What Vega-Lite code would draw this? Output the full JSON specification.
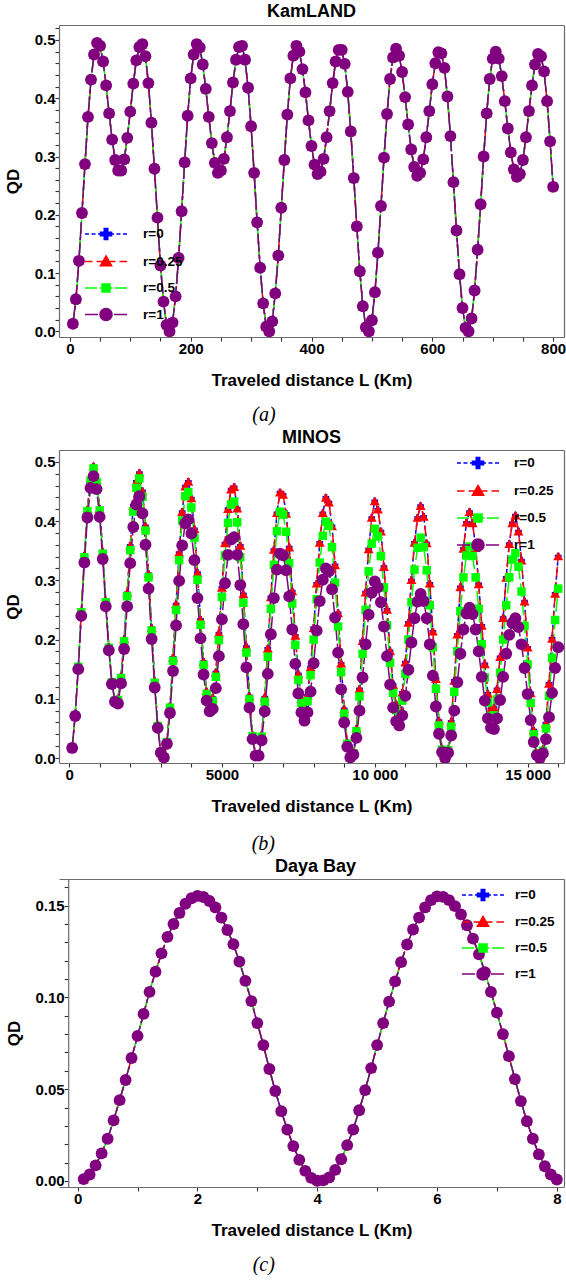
{
"$schema":"https://vega.github.io/schema/vega-lite/v6.json",
"padding":{"left":4,"top":3,"right":0,"bottom":0},
"columns":1,
"align":"none",
"spacing":4,
"resolve":{"scale":{"x":"independent","y":"independent","color":"independent"},"legend":{"color":"independent"}},
"config":{
 "view":{"stroke":null},
 "axis":{"domain":true,"domainColor":"#6b6b6b","domainWidth":1.2,"grid":false,"ticks":true,"tickSize":4,"tickColor":"#333","tickWidth":1.1,"labelFont":"Liberation Sans","labelFontWeight":"bold","labelFontSize":15,"labelColor":"black","labelPadding":0,"titleFont":"Liberation Sans","titleFontWeight":"bold","titleFontSize":17,"titleColor":"black","labelFlush":false,"labelOverlap":false},
 "title":{"font":"Liberation Sans","fontWeight":"bold","fontSize":18,"color":"black"},
 "legend":{"orient":"none","title":null,"padding":0,"symbolSize":400,"labelFont":"Liberation Sans","labelFontWeight":"bold","labelFontSize":13.5,"labelColor":"black","symbolStrokeWidth":1.6}
},
"concat":[
{"title":{"text":"(a)","orient":"bottom","anchor":"middle","frame":"bounds","font":"Liberation Serif","fontStyle":"italic","fontWeight":"normal","fontSize":20,"offset":17,"dx":-21},
 "vconcat":[{
 "width":505,"height":312,
 "title":{"text":"KamLAND","frame":"group","anchor":"middle","offset":0},
 "data":{"values":[
{"L":5,"r0":0.013,"r025":0.013,"r05":0.013,"r1":0.013},{"L":10,"r0":0.055,"r025":0.055,"r05":0.055,"r1":0.055},{"L":15,"r0":0.121,"r025":0.121,"r05":0.121,"r1":0.121},{"L":20,"r0":0.203,"r025":0.203,"r05":0.203,"r1":0.203},{"L":25,"r0":0.287,"r025":0.287,"r05":0.287,"r1":0.287},{"L":30,"r0":0.368,"r025":0.368,"r05":0.368,"r1":0.368},{"L":35,"r0":0.432,"r025":0.432,"r05":0.432,"r1":0.432},{"L":40,"r0":0.475,"r025":0.475,"r05":0.475,"r1":0.475},{"L":45,"r0":0.495,"r025":0.495,"r05":0.495,"r1":0.495},{"L":50,"r0":0.49,"r025":0.49,"r05":0.49,"r1":0.49},{"L":55,"r0":0.463,"r025":0.463,"r05":0.463,"r1":0.463},{"L":60,"r0":0.422,"r025":0.422,"r05":0.422,"r1":0.422},{"L":65,"r0":0.374,"r025":0.374,"r05":0.374,"r1":0.374},{"L":70,"r0":0.329,"r025":0.329,"r05":0.329,"r1":0.329},{"L":75,"r0":0.294,"r025":0.294,"r05":0.294,"r1":0.294},{"L":80,"r0":0.276,"r025":0.276,"r05":0.276,"r1":0.276},{"L":85,"r0":0.276,"r025":0.276,"r05":0.276,"r1":0.276},{"L":90,"r0":0.295,"r025":0.295,"r05":0.295,"r1":0.295},{"L":95,"r0":0.332,"r025":0.332,"r05":0.332,"r1":0.332},{"L":100,"r0":0.377,"r025":0.377,"r05":0.377,"r1":0.377},{"L":105,"r0":0.425,"r025":0.425,"r05":0.425,"r1":0.425},{"L":110,"r0":0.465,"r025":0.465,"r05":0.465,"r1":0.465},{"L":115,"r0":0.488,"r025":0.488,"r05":0.488,"r1":0.488},{"L":120,"r0":0.493,"r025":0.493,"r05":0.493,"r1":0.493},{"L":125,"r0":0.472,"r025":0.472,"r05":0.472,"r1":0.472},{"L":130,"r0":0.426,"r025":0.426,"r05":0.426,"r1":0.426},{"L":135,"r0":0.358,"r025":0.358,"r05":0.358,"r1":0.358},{"L":140,"r0":0.279,"r025":0.279,"r05":0.279,"r1":0.279},{"L":145,"r0":0.195,"r025":0.195,"r05":0.195,"r1":0.195},{"L":150,"r0":0.113,"r025":0.113,"r05":0.113,"r1":0.113},{"L":155,"r0":0.051,"r025":0.051,"r05":0.051,"r1":0.051},{"L":160,"r0":0.011,"r025":0.011,"r05":0.011,"r1":0.011},{"L":165,"r0":0.0,"r025":0.0,"r05":0.0,"r1":0.0},
{"L":170,"r0":0.015,"r025":0.015,"r05":0.015,"r1":0.015},{"L":175,"r0":0.06,"r025":0.06,"r05":0.06,"r1":0.06},{"L":180,"r0":0.126,"r025":0.126,"r05":0.126,"r1":0.126},{"L":185,"r0":0.206,"r025":0.206,"r05":0.206,"r1":0.206},{"L":190,"r0":0.29,"r025":0.29,"r05":0.29,"r1":0.29},{"L":195,"r0":0.37,"r025":0.37,"r05":0.37,"r1":0.37},{"L":200,"r0":0.434,"r025":0.434,"r05":0.434,"r1":0.434},{"L":205,"r0":0.475,"r025":0.475,"r05":0.475,"r1":0.475},{"L":210,"r0":0.493,"r025":0.493,"r05":0.493,"r1":0.493},{"L":215,"r0":0.487,"r025":0.487,"r05":0.487,"r1":0.487},{"L":220,"r0":0.458,"r025":0.458,"r05":0.458,"r1":0.458},{"L":225,"r0":0.416,"r025":0.416,"r05":0.416,"r1":0.416},{"L":230,"r0":0.368,"r025":0.368,"r05":0.368,"r1":0.368},{"L":235,"r0":0.323,"r025":0.323,"r05":0.323,"r1":0.323},{"L":240,"r0":0.289,"r025":0.289,"r05":0.289,"r1":0.289},{"L":245,"r0":0.272,"r025":0.272,"r05":0.272,"r1":0.272},{"L":250,"r0":0.276,"r025":0.276,"r05":0.276,"r1":0.276},{"L":255,"r0":0.296,"r025":0.296,"r05":0.296,"r1":0.296},{"L":260,"r0":0.333,"r025":0.333,"r05":0.333,"r1":0.333},{"L":265,"r0":0.378,"r025":0.378,"r05":0.378,"r1":0.378},{"L":270,"r0":0.427,"r025":0.427,"r05":0.427,"r1":0.427},{"L":275,"r0":0.466,"r025":0.466,"r05":0.466,"r1":0.466},{"L":280,"r0":0.488,"r025":0.488,"r05":0.488,"r1":0.488},{"L":285,"r0":0.49,"r025":0.49,"r05":0.49,"r1":0.49},{"L":290,"r0":0.466,"r025":0.466,"r05":0.466,"r1":0.466},{"L":295,"r0":0.418,"r025":0.418,"r05":0.418,"r1":0.418},{"L":300,"r0":0.352,"r025":0.352,"r05":0.352,"r1":0.352},{"L":305,"r0":0.272,"r025":0.272,"r05":0.272,"r1":0.272},{"L":310,"r0":0.187,"r025":0.187,"r05":0.187,"r1":0.187},{"L":315,"r0":0.109,"r025":0.109,"r05":0.109,"r1":0.109},{"L":320,"r0":0.048,"r025":0.048,"r05":0.048,"r1":0.048},{"L":325,"r0":0.008,"r025":0.008,"r05":0.008,"r1":0.008},{"L":330,"r0":0.0,"r025":0.0,"r05":0.0,"r1":0.0},
{"L":335,"r0":0.017,"r025":0.017,"r05":0.017,"r1":0.017},{"L":340,"r0":0.065,"r025":0.065,"r05":0.065,"r1":0.065},{"L":345,"r0":0.13,"r025":0.13,"r05":0.13,"r1":0.13},{"L":350,"r0":0.212,"r025":0.212,"r05":0.212,"r1":0.212},{"L":355,"r0":0.294,"r025":0.294,"r05":0.294,"r1":0.294},{"L":360,"r0":0.372,"r025":0.372,"r05":0.372,"r1":0.372},{"L":365,"r0":0.434,"r025":0.434,"r05":0.434,"r1":0.434},{"L":370,"r0":0.473,"r025":0.473,"r05":0.473,"r1":0.473},{"L":375,"r0":0.49,"r025":0.49,"r05":0.49,"r1":0.49},{"L":380,"r0":0.48,"r025":0.48,"r05":0.48,"r1":0.48},{"L":385,"r0":0.45,"r025":0.45,"r05":0.45,"r1":0.45},{"L":390,"r0":0.41,"r025":0.41,"r05":0.41,"r1":0.41},{"L":395,"r0":0.362,"r025":0.362,"r05":0.362,"r1":0.362},{"L":400,"r0":0.318,"r025":0.318,"r05":0.318,"r1":0.318},{"L":405,"r0":0.286,"r025":0.286,"r05":0.286,"r1":0.286},{"L":410,"r0":0.27,"r025":0.27,"r05":0.27,"r1":0.27},{"L":415,"r0":0.274,"r025":0.274,"r05":0.274,"r1":0.274},{"L":420,"r0":0.296,"r025":0.296,"r05":0.296,"r1":0.296},{"L":425,"r0":0.333,"r025":0.333,"r05":0.333,"r1":0.333},{"L":430,"r0":0.378,"r025":0.378,"r05":0.378,"r1":0.378},{"L":435,"r0":0.426,"r025":0.426,"r05":0.426,"r1":0.426},{"L":440,"r0":0.463,"r025":0.463,"r05":0.463,"r1":0.463},{"L":445,"r0":0.483,"r025":0.483,"r05":0.483,"r1":0.483},{"L":450,"r0":0.483,"r025":0.483,"r05":0.483,"r1":0.483},{"L":455,"r0":0.459,"r025":0.459,"r05":0.459,"r1":0.459},{"L":460,"r0":0.411,"r025":0.411,"r05":0.411,"r1":0.411},{"L":465,"r0":0.343,"r025":0.343,"r05":0.343,"r1":0.343},{"L":470,"r0":0.263,"r025":0.263,"r05":0.263,"r1":0.263},{"L":475,"r0":0.18,"r025":0.18,"r05":0.18,"r1":0.18},{"L":480,"r0":0.103,"r025":0.103,"r05":0.103,"r1":0.103},{"L":485,"r0":0.043,"r025":0.043,"r05":0.043,"r1":0.043},{"L":490,"r0":0.007,"r025":0.007,"r05":0.007,"r1":0.007},{"L":495,"r0":0.0,"r025":0.0,"r05":0.0,"r1":0.0},
{"L":500,"r0":0.019,"r025":0.019,"r05":0.019,"r1":0.019},{"L":505,"r0":0.067,"r025":0.067,"r05":0.067,"r1":0.067},{"L":510,"r0":0.135,"r025":0.135,"r05":0.135,"r1":0.135},{"L":515,"r0":0.215,"r025":0.215,"r05":0.215,"r1":0.215},{"L":520,"r0":0.298,"r025":0.298,"r05":0.298,"r1":0.298},{"L":525,"r0":0.373,"r025":0.373,"r05":0.373,"r1":0.373},{"L":530,"r0":0.433,"r025":0.433,"r05":0.433,"r1":0.433},{"L":535,"r0":0.47,"r025":0.47,"r05":0.47,"r1":0.47},{"L":540,"r0":0.485,"r025":0.485,"r05":0.485,"r1":0.485},{"L":545,"r0":0.473,"r025":0.473,"r05":0.473,"r1":0.473},{"L":550,"r0":0.445,"r025":0.445,"r05":0.445,"r1":0.445},{"L":555,"r0":0.402,"r025":0.402,"r05":0.402,"r1":0.402},{"L":560,"r0":0.355,"r025":0.355,"r05":0.355,"r1":0.355},{"L":565,"r0":0.312,"r025":0.312,"r05":0.312,"r1":0.312},{"L":570,"r0":0.282,"r025":0.282,"r05":0.282,"r1":0.282},{"L":575,"r0":0.267,"r025":0.267,"r05":0.267,"r1":0.267},{"L":580,"r0":0.272,"r025":0.272,"r05":0.272,"r1":0.272},{"L":585,"r0":0.295,"r025":0.295,"r05":0.295,"r1":0.295},{"L":590,"r0":0.333,"r025":0.333,"r05":0.333,"r1":0.333},{"L":595,"r0":0.378,"r025":0.378,"r05":0.378,"r1":0.378},{"L":600,"r0":0.424,"r025":0.424,"r05":0.424,"r1":0.424},{"L":605,"r0":0.46,"r025":0.46,"r05":0.46,"r1":0.46},{"L":610,"r0":0.479,"r025":0.479,"r05":0.479,"r1":0.479},{"L":615,"r0":0.477,"r025":0.477,"r05":0.477,"r1":0.477},{"L":620,"r0":0.452,"r025":0.452,"r05":0.452,"r1":0.452},{"L":625,"r0":0.403,"r025":0.403,"r05":0.403,"r1":0.403},{"L":630,"r0":0.335,"r025":0.335,"r05":0.335,"r1":0.335},{"L":635,"r0":0.256,"r025":0.256,"r05":0.256,"r1":0.256},{"L":640,"r0":0.173,"r025":0.173,"r05":0.173,"r1":0.173},{"L":645,"r0":0.098,"r025":0.098,"r05":0.098,"r1":0.098},{"L":650,"r0":0.04,"r025":0.04,"r05":0.04,"r1":0.04},{"L":655,"r0":0.006,"r025":0.006,"r05":0.006,"r1":0.006},{"L":660,"r0":0.0,"r025":0.0,"r05":0.0,"r1":0.0},
{"L":665,"r0":0.022,"r025":0.022,"r05":0.022,"r1":0.022},{"L":670,"r0":0.07,"r025":0.07,"r05":0.07,"r1":0.07},{"L":675,"r0":0.14,"r025":0.14,"r05":0.14,"r1":0.14},{"L":680,"r0":0.218,"r025":0.218,"r05":0.218,"r1":0.218},{"L":685,"r0":0.3,"r025":0.3,"r05":0.3,"r1":0.3},{"L":690,"r0":0.374,"r025":0.374,"r05":0.374,"r1":0.374},{"L":695,"r0":0.433,"r025":0.433,"r05":0.433,"r1":0.433},{"L":700,"r0":0.468,"r025":0.468,"r05":0.468,"r1":0.468},{"L":705,"r0":0.48,"r025":0.48,"r05":0.48,"r1":0.48},{"L":710,"r0":0.468,"r025":0.468,"r05":0.468,"r1":0.468},{"L":715,"r0":0.438,"r025":0.438,"r05":0.438,"r1":0.438},{"L":720,"r0":0.395,"r025":0.395,"r05":0.395,"r1":0.395},{"L":725,"r0":0.348,"r025":0.348,"r05":0.348,"r1":0.348},{"L":730,"r0":0.307,"r025":0.307,"r05":0.307,"r1":0.307},{"L":735,"r0":0.278,"r025":0.278,"r05":0.278,"r1":0.278},{"L":740,"r0":0.265,"r025":0.265,"r05":0.265,"r1":0.265},{"L":745,"r0":0.27,"r025":0.27,"r05":0.27,"r1":0.27},{"L":750,"r0":0.294,"r025":0.294,"r05":0.294,"r1":0.294},{"L":755,"r0":0.333,"r025":0.333,"r05":0.333,"r1":0.333},{"L":760,"r0":0.378,"r025":0.378,"r05":0.378,"r1":0.378},{"L":765,"r0":0.422,"r025":0.422,"r05":0.422,"r1":0.422},{"L":770,"r0":0.458,"r025":0.458,"r05":0.458,"r1":0.458},{"L":775,"r0":0.476,"r025":0.476,"r05":0.476,"r1":0.476},{"L":780,"r0":0.472,"r025":0.472,"r05":0.472,"r1":0.472},{"L":785,"r0":0.446,"r025":0.446,"r05":0.446,"r1":0.446},{"L":790,"r0":0.395,"r025":0.395,"r05":0.395,"r1":0.395},{"L":795,"r0":0.326,"r025":0.326,"r05":0.326,"r1":0.326},{"L":800,"r0":0.248,"r025":0.248,"r05":0.248,"r1":0.248}
 ]},
 "transform":[{"fold":["r0","r025","r05","r1"],"as":["series","qd"]}],
 "encoding":{
   "x":{"field":"L","type":"quantitative","scale":{"domain":[-18,818],"nice":false,"zero":false},"axis":null},
   "y":{"field":"qd","type":"quantitative","scale":{"domain":[-0.0098,0.5257],"nice":false,"zero":false},"axis":null},
   "color":{"field":"series","type":"nominal","scale":{"domain":["r0","r025","r05","r1"],"range":["#0000ff","#ff0000","#00ff00","#800080"]},
   "legend":{"legendX":36,"legendY":198,"labelOffset":26,"rowPadding":7.5,
    "labelExpr":"datum.label === 'r0' ? 'r=0' : datum.label === 'r025' ? 'r=0.25' : datum.label === 'r05' ? 'r=0.5' : 'r=1'",
    "encode":{"symbols":{"update":{
      "shape":{"signal":"datum.value === 'r0' ? 'M-2.1,0H-1.7M-1.45,0H-1.05M-0.8,0H-0.55M0.55,0H0.8M1.05,0H1.45M1.7,0H2.1M-0.55,-0.17H-0.17V-0.55H0.17V-0.17H0.55V0.17H0.17V0.55H-0.17V0.17H-0.55Z' : datum.value === 'r025' ? 'M-2.1,0H-1.35M-0.95,0H-0.2M0.2,0H0.95M1.35,0H2.1M0,-0.55L0.55,0.42L-0.55,0.42Z' : datum.value === 'r05' ? 'M-2.1,0H-0.9M-0.65,0H0.65M0.9,0H2.1M-0.4,-0.4H0.4V0.4H-0.4Z' : 'M-2.1,0H-0.8M0.8,0H2.1M0.6,0A0.6,0.6,0,1,1,-0.6,0A0.6,0.6,0,1,1,0.6,0Z'"},
      "fill":{"signal":"datum.value === 'r0' ? '#0000ff' : datum.value === 'r025' ? '#ff0000' : datum.value === 'r05' ? '#00ff00' : '#800080'"},
      "stroke":{"signal":"datum.value === 'r0' ? '#0000ff' : datum.value === 'r025' ? '#ff0000' : datum.value === 'r05' ? '#00ff00' : '#800080'"},
      "size":{"value":400},"opacity":{"value":1},"strokeWidth":{"value":1.6}}}}}}},
 "layer":[
  {"mark":{"type":"line","strokeWidth":1.5,"clip":true},
   "encoding":{
    "x":{"field":"L","type":"quantitative",
      "axis":{"orient":"bottom","values":[0,50,100,150,200,250,300,350,400,450,500,550,600,650,700,750,800],"format":"d","labelExpr":"datum.value % 200 === 0 ? datum.label : ''","title":"Traveled distance L (Km)","titlePadding":16,
        "encode":{"ticks":{"update":{"y":{"value":0},"y2":{"signal":"datum.value % 200 === 0 ? -7 : -4"}}}}}},
    "y":{"field":"qd","type":"quantitative",
      "axis":{"orient":"left","values":[0,0.02,0.04,0.06,0.08,0.1,0.12,0.14,0.16,0.18,0.2,0.22,0.24,0.26,0.28,0.3,0.32,0.34,0.36,0.38,0.4,0.42,0.44,0.46,0.48,0.5,0.52],"format":".1f","labelExpr":"abs(datum.value*10 - round(datum.value*10)) < 1e-6 ? datum.label : ''","title":"QD","titlePadding":12,
        "encode":{"ticks":{"update":{"x":{"value":0},"x2":{"signal":"abs(datum.value*10 - round(datum.value*10)) < 1e-6 ? 7 : 4"}}}}}},
    "strokeDash":{"field":"series","type":"nominal","scale":{"domain":["r0","r025","r05","r1"],"range":[[4,3],[10,5],[14,4],[18,3]]},"legend":null}}},
  {"transform":[{"filter":{"field":"series","equal":"r0"}}],
   "mark":{"type":"point","shape":"cross","size":45,"filled":true,"opacity":1,"strokeWidth":0,"clip":true},
   "encoding":{
    "x":{"field":"L","type":"quantitative","axis":{"orient":"top","tickSize":0.01,"values":[0,50,100,150,200,250,300,350,400,450,500,550,600,650,700,750,800],"labels":false,"title":null,
        "encode":{"ticks":{"update":{"y":{"value":0},"y2":{"signal":"datum.value % 200 === 0 ? 7 : 4"}}}}}},
    "y":{"field":"qd","type":"quantitative","axis":{"orient":"right","tickSize":0.01,"values":[0,0.02,0.04,0.06,0.08,0.1,0.12,0.14,0.16,0.18,0.2,0.22,0.24,0.26,0.28,0.3,0.32,0.34,0.36,0.38,0.4,0.42,0.44,0.46,0.48,0.5,0.52],"labels":false,"title":null,
        "encode":{"ticks":{"update":{"x":{"value":0},"x2":{"signal":"abs(datum.value*10 - round(datum.value*10)) < 1e-6 ? -7 : -4"}}}}}}}},
  {"transform":[{"filter":{"field":"series","equal":"r025"}}],"mark":{"type":"point","shape":"triangle-up","size":100,"filled":true,"opacity":1,"strokeWidth":0,"clip":true}},
  {"transform":[{"filter":{"field":"series","equal":"r05"}}],"mark":{"type":"point","shape":"square","size":72,"filled":true,"opacity":1,"strokeWidth":0,"clip":true}},
  {"transform":[{"filter":{"field":"series","equal":"r1"}}],"mark":{"type":"point","shape":"circle","size":140,"filled":true,"opacity":1,"strokeWidth":0,"clip":true}}
 ],
 "resolve":{"axis":{"x":"independent","y":"independent"}}
}]},
{"title":{"text":"(b)","orient":"bottom","anchor":"middle","frame":"bounds","font":"Liberation Serif","fontStyle":"italic","fontWeight":"normal","fontSize":20,"offset":20,"dx":-21},
 "vconcat":[{
 "width":505,"height":313,
 "title":{"text":"MINOS","frame":"group","anchor":"middle","offset":2},
 "data":{"values":[
{"L":100,"r0":0.018,"r025":0.018,"r05":0.018,"r1":0.017},{"L":200,"r0":0.073,"r025":0.073,"r05":0.072,"r1":0.071},{"L":300,"r0":0.155,"r025":0.155,"r05":0.154,"r1":0.15},{"L":400,"r0":0.248,"r025":0.248,"r05":0.246,"r1":0.24},{"L":500,"r0":0.342,"r025":0.342,"r05":0.339,"r1":0.33},{"L":600,"r0":0.42,"r025":0.42,"r05":0.417,"r1":0.406},{"L":700,"r0":0.472,"r025":0.472,"r05":0.468,"r1":0.456},{"L":800,"r0":0.493,"r025":0.493,"r05":0.489,"r1":0.476},{"L":900,"r0":0.47,"r025":0.47,"r05":0.466,"r1":0.454},{"L":1000,"r0":0.421,"r025":0.421,"r05":0.418,"r1":0.407},{"L":1100,"r0":0.348,"r025":0.348,"r05":0.345,"r1":0.336},{"L":1200,"r0":0.265,"r025":0.265,"r05":0.263,"r1":0.256},{"L":1300,"r0":0.188,"r025":0.188,"r05":0.186,"r1":0.182},{"L":1400,"r0":0.129,"r025":0.129,"r05":0.128,"r1":0.125},{"L":1500,"r0":0.098,"r025":0.098,"r05":0.097,"r1":0.095},
{"L":1600,"r0":0.101,"r025":0.101,"r05":0.098,"r1":0.092},{"L":1700,"r0":0.138,"r025":0.138,"r05":0.135,"r1":0.126},{"L":1800,"r0":0.201,"r025":0.201,"r05":0.197,"r1":0.184},{"L":1900,"r0":0.279,"r025":0.279,"r05":0.273,"r1":0.256},{"L":2000,"r0":0.359,"r025":0.359,"r05":0.351,"r1":0.329},{"L":2100,"r0":0.426,"r025":0.426,"r05":0.416,"r1":0.39},{"L":2200,"r0":0.467,"r025":0.467,"r05":0.456,"r1":0.428},{"L":2300,"r0":0.482,"r025":0.482,"r05":0.472,"r1":0.442},{"L":2400,"r0":0.451,"r025":0.451,"r05":0.441,"r1":0.413},{"L":2500,"r0":0.392,"r025":0.392,"r05":0.384,"r1":0.36},{"L":2600,"r0":0.311,"r025":0.311,"r05":0.305,"r1":0.286},{"L":2700,"r0":0.22,"r025":0.22,"r05":0.215,"r1":0.201},{"L":2800,"r0":0.13,"r025":0.13,"r05":0.127,"r1":0.119},{"L":2900,"r0":0.056,"r025":0.056,"r05":0.054,"r1":0.051},{"L":3000,"r0":0.01,"r025":0.01,"r05":0.01,"r1":0.009},
{"L":3100,"r0":0.001,"r025":0.001,"r05":0.001,"r1":0.001},{"L":3200,"r0":0.028,"r025":0.028,"r05":0.027,"r1":0.024},{"L":3300,"r0":0.088,"r025":0.088,"r05":0.085,"r1":0.076},{"L":3400,"r0":0.17,"r025":0.17,"r05":0.164,"r1":0.147},{"L":3500,"r0":0.26,"r025":0.26,"r05":0.25,"r1":0.224},{"L":3600,"r0":0.347,"r025":0.347,"r05":0.334,"r1":0.299},{"L":3700,"r0":0.416,"r025":0.416,"r05":0.401,"r1":0.359},{"L":3800,"r0":0.459,"r025":0.459,"r05":0.442,"r1":0.396},{"L":3900,"r0":0.467,"r025":0.467,"r05":0.449,"r1":0.403},{"L":4000,"r0":0.439,"r025":0.439,"r05":0.423,"r1":0.379},{"L":4100,"r0":0.387,"r025":0.387,"r05":0.372,"r1":0.334},{"L":4200,"r0":0.313,"r025":0.313,"r05":0.301,"r1":0.27},{"L":4300,"r0":0.234,"r025":0.234,"r05":0.225,"r1":0.202},{"L":4400,"r0":0.163,"r025":0.163,"r05":0.157,"r1":0.141},{"L":4500,"r0":0.113,"r025":0.113,"r05":0.108,"r1":0.097},{"L":4600,"r0":0.092,"r025":0.092,"r05":0.088,"r1":0.079},
{"L":4700,"r0":0.102,"r025":0.102,"r05":0.096,"r1":0.083},{"L":4800,"r0":0.145,"r025":0.145,"r05":0.137,"r1":0.118},{"L":4900,"r0":0.211,"r025":0.211,"r05":0.199,"r1":0.172},{"L":5000,"r0":0.288,"r025":0.288,"r05":0.272,"r1":0.234},{"L":5100,"r0":0.363,"r025":0.363,"r05":0.342,"r1":0.295},{"L":5200,"r0":0.421,"r025":0.421,"r05":0.397,"r1":0.343},{"L":5300,"r0":0.454,"r025":0.454,"r05":0.428,"r1":0.369},{"L":5400,"r0":0.458,"r025":0.458,"r05":0.433,"r1":0.373},{"L":5500,"r0":0.422,"r025":0.422,"r05":0.398,"r1":0.343},{"L":5600,"r0":0.359,"r025":0.359,"r05":0.339,"r1":0.292},{"L":5700,"r0":0.277,"r025":0.277,"r05":0.262,"r1":0.226},{"L":5800,"r0":0.188,"r025":0.188,"r05":0.178,"r1":0.153},{"L":5900,"r0":0.105,"r025":0.105,"r05":0.099,"r1":0.085},{"L":6000,"r0":0.039,"r025":0.039,"r05":0.037,"r1":0.032},{"L":6100,"r0":0.005,"r025":0.005,"r05":0.004,"r1":0.004},
{"L":6200,"r0":0.005,"r025":0.005,"r05":0.004,"r1":0.004},{"L":6300,"r0":0.039,"r025":0.039,"r05":0.036,"r1":0.03},{"L":6400,"r0":0.103,"r025":0.103,"r05":0.095,"r1":0.079},{"L":6500,"r0":0.185,"r025":0.185,"r05":0.171,"r1":0.142},{"L":6600,"r0":0.272,"r025":0.272,"r05":0.252,"r1":0.209},{"L":6700,"r0":0.352,"r025":0.352,"r05":0.326,"r1":0.27},{"L":6800,"r0":0.414,"r025":0.414,"r05":0.383,"r1":0.318},{"L":6900,"r0":0.449,"r025":0.449,"r05":0.416,"r1":0.345},{"L":7000,"r0":0.445,"r025":0.445,"r05":0.411,"r1":0.342},{"L":7100,"r0":0.413,"r025":0.413,"r05":0.382,"r1":0.317},{"L":7200,"r0":0.356,"r025":0.356,"r05":0.329,"r1":0.273},{"L":7300,"r0":0.282,"r025":0.282,"r05":0.261,"r1":0.217},{"L":7400,"r0":0.207,"r025":0.207,"r05":0.191,"r1":0.159},{"L":7500,"r0":0.142,"r025":0.142,"r05":0.132,"r1":0.109},{"L":7600,"r0":0.1,"r025":0.1,"r05":0.093,"r1":0.077},
{"L":7700,"r0":0.086,"r025":0.086,"r05":0.078,"r1":0.063},{"L":7800,"r0":0.106,"r025":0.106,"r05":0.096,"r1":0.077},{"L":7900,"r0":0.154,"r025":0.154,"r05":0.14,"r1":0.112},{"L":8000,"r0":0.22,"r025":0.22,"r05":0.2,"r1":0.16},{"L":8100,"r0":0.295,"r025":0.295,"r05":0.268,"r1":0.215},{"L":8200,"r0":0.364,"r025":0.364,"r05":0.33,"r1":0.265},{"L":8300,"r0":0.414,"r025":0.414,"r05":0.375,"r1":0.301},{"L":8400,"r0":0.44,"r025":0.44,"r05":0.399,"r1":0.32},{"L":8500,"r0":0.432,"r025":0.432,"r05":0.392,"r1":0.315},{"L":8600,"r0":0.392,"r025":0.392,"r05":0.356,"r1":0.285},{"L":8700,"r0":0.326,"r025":0.326,"r05":0.296,"r1":0.237},{"L":8800,"r0":0.245,"r025":0.245,"r05":0.222,"r1":0.178},{"L":8900,"r0":0.16,"r025":0.16,"r05":0.145,"r1":0.116},{"L":9000,"r0":0.083,"r025":0.083,"r05":0.075,"r1":0.06},{"L":9100,"r0":0.026,"r025":0.026,"r05":0.024,"r1":0.019},{"L":9200,"r0":0.001,"r025":0.001,"r05":0.001,"r1":0.001},
{"L":9300,"r0":0.009,"r025":0.009,"r05":0.008,"r1":0.006},{"L":9400,"r0":0.05,"r025":0.05,"r05":0.045,"r1":0.034},{"L":9500,"r0":0.117,"r025":0.117,"r05":0.104,"r1":0.08},{"L":9600,"r0":0.198,"r025":0.198,"r05":0.176,"r1":0.136},{"L":9700,"r0":0.28,"r025":0.28,"r05":0.25,"r1":0.192},{"L":9800,"r0":0.353,"r025":0.353,"r05":0.315,"r1":0.242},{"L":9900,"r0":0.406,"r025":0.406,"r05":0.362,"r1":0.279},{"L":10000,"r0":0.434,"r025":0.434,"r05":0.387,"r1":0.298},{"L":10100,"r0":0.42,"r025":0.42,"r05":0.374,"r1":0.288},{"L":10200,"r0":0.383,"r025":0.383,"r05":0.341,"r1":0.263},{"L":10300,"r0":0.323,"r025":0.323,"r05":0.288,"r1":0.222},{"L":10400,"r0":0.251,"r025":0.251,"r05":0.224,"r1":0.172},{"L":10500,"r0":0.181,"r025":0.181,"r05":0.161,"r1":0.124},{"L":10600,"r0":0.124,"r025":0.124,"r05":0.11,"r1":0.085},{"L":10700,"r0":0.091,"r025":0.091,"r05":0.081,"r1":0.062},
{"L":10800,"r0":0.085,"r025":0.085,"r05":0.074,"r1":0.055},{"L":10900,"r0":0.111,"r025":0.111,"r05":0.097,"r1":0.072},{"L":11000,"r0":0.162,"r025":0.162,"r05":0.142,"r1":0.105},{"L":11100,"r0":0.229,"r025":0.229,"r05":0.2,"r1":0.149},{"L":11200,"r0":0.301,"r025":0.301,"r05":0.263,"r1":0.195},{"L":11300,"r0":0.364,"r025":0.364,"r05":0.318,"r1":0.236},{"L":11400,"r0":0.406,"r025":0.406,"r05":0.355,"r1":0.264},{"L":11500,"r0":0.426,"r025":0.426,"r05":0.372,"r1":0.277},{"L":11600,"r0":0.408,"r025":0.408,"r05":0.356,"r1":0.265},{"L":11700,"r0":0.363,"r025":0.363,"r05":0.317,"r1":0.236},{"L":11800,"r0":0.295,"r025":0.295,"r05":0.258,"r1":0.192},{"L":11900,"r0":0.214,"r025":0.214,"r05":0.187,"r1":0.139},{"L":12000,"r0":0.134,"r025":0.134,"r05":0.117,"r1":0.087},{"L":12100,"r0":0.063,"r025":0.063,"r05":0.055,"r1":0.041},{"L":12200,"r0":0.016,"r025":0.016,"r05":0.014,"r1":0.01},{"L":12300,"r0":0.0,"r025":0.0,"r05":0.0,"r1":0.0},
{"L":12400,"r0":0.015,"r025":0.015,"r05":0.013,"r1":0.009},{"L":12500,"r0":0.062,"r025":0.062,"r05":0.053,"r1":0.038},{"L":12600,"r0":0.131,"r025":0.131,"r05":0.112,"r1":0.08},{"L":12700,"r0":0.209,"r025":0.209,"r05":0.18,"r1":0.128},{"L":12800,"r0":0.289,"r025":0.289,"r05":0.248,"r1":0.176},{"L":12900,"r0":0.354,"r025":0.354,"r05":0.305,"r1":0.217},{"L":13000,"r0":0.398,"r025":0.398,"r05":0.342,"r1":0.244},{"L":13100,"r0":0.416,"r025":0.416,"r05":0.357,"r1":0.254},{"L":13200,"r0":0.397,"r025":0.397,"r05":0.341,"r1":0.243},{"L":13300,"r0":0.355,"r025":0.355,"r05":0.305,"r1":0.217},{"L":13400,"r0":0.294,"r025":0.294,"r05":0.252,"r1":0.18},{"L":13500,"r0":0.224,"r025":0.224,"r05":0.192,"r1":0.137},{"L":13600,"r0":0.159,"r025":0.159,"r05":0.136,"r1":0.097},{"L":13700,"r0":0.109,"r025":0.109,"r05":0.094,"r1":0.067},{"L":13800,"r0":0.083,"r025":0.083,"r05":0.071,"r1":0.051},
{"L":13900,"r0":0.085,"r025":0.085,"r05":0.072,"r1":0.049},{"L":14000,"r0":0.117,"r025":0.117,"r05":0.099,"r1":0.067},{"L":14100,"r0":0.171,"r025":0.171,"r05":0.144,"r1":0.098},{"L":14200,"r0":0.237,"r025":0.237,"r05":0.2,"r1":0.137},{"L":14300,"r0":0.305,"r025":0.305,"r05":0.258,"r1":0.176},{"L":14400,"r0":0.362,"r025":0.362,"r05":0.305,"r1":0.208},{"L":14500,"r0":0.397,"r025":0.397,"r05":0.335,"r1":0.228},{"L":14600,"r0":0.41,"r025":0.41,"r05":0.346,"r1":0.236},{"L":14700,"r0":0.383,"r025":0.383,"r05":0.323,"r1":0.221},{"L":14800,"r0":0.334,"r025":0.334,"r05":0.281,"r1":0.192},{"L":14900,"r0":0.265,"r025":0.265,"r05":0.223,"r1":0.152},{"L":15000,"r0":0.187,"r025":0.187,"r05":0.158,"r1":0.108},{"L":15100,"r0":0.11,"r025":0.11,"r05":0.093,"r1":0.064},{"L":15200,"r0":0.047,"r025":0.047,"r05":0.04,"r1":0.027},{"L":15300,"r0":0.008,"r025":0.008,"r05":0.007,"r1":0.005},
{"L":15400,"r0":0.0,"r025":0.0,"r05":0.0,"r1":0.0},{"L":15500,"r0":0.015,"r025":0.015,"r05":0.012,"r1":0.008},{"L":15600,"r0":0.059,"r025":0.059,"r05":0.05,"r1":0.032},{"L":15700,"r0":0.126,"r025":0.126,"r05":0.105,"r1":0.069},{"L":15800,"r0":0.202,"r025":0.202,"r05":0.169,"r1":0.11},{"L":15900,"r0":0.278,"r025":0.278,"r05":0.233,"r1":0.152},{"L":16000,"r0":0.341,"r025":0.341,"r05":0.286,"r1":0.187}
 ]},
 "transform":[{"fold":["r0","r025","r05","r1"],"as":["series","qd"]}],
 "encoding":{
   "x":{"field":"L","type":"quantitative","scale":{"domain":[-330,16190],"nice":false,"zero":false},"axis":null},
   "y":{"field":"qd","type":"quantitative","scale":{"domain":[-0.0084,0.52],"nice":false,"zero":false},"axis":null},
   "color":{"field":"series","type":"nominal","scale":{"domain":["r0","r025","r05","r1"],"range":["#0000ff","#ff0000","#00ff00","#800080"]},
   "legend":{"legendX":408,"legendY":2,"labelOffset":25,"rowPadding":8,
    "labelExpr":"datum.label === 'r0' ? 'r=0' : datum.label === 'r025' ? 'r=0.25' : datum.label === 'r05' ? 'r=0.5' : 'r=1'",
    "encode":{"symbols":{"update":{
      "shape":{"signal":"datum.value === 'r0' ? 'M-2.1,0H-1.7M-1.45,0H-1.05M-0.8,0H-0.55M0.55,0H0.8M1.05,0H1.45M1.7,0H2.1M-0.55,-0.17H-0.17V-0.55H0.17V-0.17H0.55V0.17H0.17V0.55H-0.17V0.17H-0.55Z' : datum.value === 'r025' ? 'M-2.1,0H-1.35M-0.95,0H-0.2M0.2,0H0.95M1.35,0H2.1M0,-0.55L0.55,0.42L-0.55,0.42Z' : datum.value === 'r05' ? 'M-2.1,0H-0.9M-0.65,0H0.65M0.9,0H2.1M-0.4,-0.4H0.4V0.4H-0.4Z' : 'M-2.1,0H-0.8M0.8,0H2.1M0.6,0A0.6,0.6,0,1,1,-0.6,0A0.6,0.6,0,1,1,0.6,0Z'"},
      "fill":{"signal":"datum.value === 'r0' ? '#0000ff' : datum.value === 'r025' ? '#ff0000' : datum.value === 'r05' ? '#00ff00' : '#800080'"},
      "stroke":{"signal":"datum.value === 'r0' ? '#0000ff' : datum.value === 'r025' ? '#ff0000' : datum.value === 'r05' ? '#00ff00' : '#800080'"},
      "size":{"value":400},"opacity":{"value":1},"strokeWidth":{"value":1.6}}}}}}},
 "layer":[
  {"mark":{"type":"line","strokeWidth":1.5,"clip":true},
   "encoding":{
    "x":{"field":"L","type":"quantitative",
      "axis":{"orient":"bottom","values":[0,1000,2000,3000,4000,5000,6000,7000,8000,9000,10000,11000,12000,13000,14000,15000,16000],"format":"d","labelExpr":"datum.value === 10000 ? '10 000' : datum.value === 15000 ? '15 000' : datum.value % 5000 === 0 ? datum.label : ''","title":"Traveled distance L (Km)","titlePadding":16,
        "encode":{"ticks":{"update":{"y":{"value":0},"y2":{"signal":"datum.value % 5000 === 0 ? -7 : -4"}}}}}},
    "y":{"field":"qd","type":"quantitative",
      "axis":{"orient":"left","values":[0,0.02,0.04,0.06,0.08,0.1,0.12,0.14,0.16,0.18,0.2,0.22,0.24,0.26,0.28,0.3,0.32,0.34,0.36,0.38,0.4,0.42,0.44,0.46,0.48,0.5],"format":".1f","labelExpr":"abs(datum.value*10 - round(datum.value*10)) < 1e-6 ? datum.label : ''","title":"QD","titlePadding":12,
        "encode":{"ticks":{"update":{"x":{"value":0},"x2":{"signal":"abs(datum.value*10 - round(datum.value*10)) < 1e-6 ? 7 : 4"}}}}}},
    "strokeDash":{"field":"series","type":"nominal","scale":{"domain":["r0","r025","r05","r1"],"range":[[4,3],[10,5],[14,4],[18,3]]},"legend":null}}},
  {"transform":[{"filter":{"field":"series","equal":"r0"}}],
   "mark":{"type":"point","shape":"cross","size":45,"filled":true,"opacity":1,"strokeWidth":0,"clip":true},
   "encoding":{
    "x":{"field":"L","type":"quantitative","axis":{"orient":"top","tickSize":0.01,"values":[0,1000,2000,3000,4000,5000,6000,7000,8000,9000,10000,11000,12000,13000,14000,15000,16000],"labels":false,"title":null,
        "encode":{"ticks":{"update":{"y":{"value":0},"y2":{"signal":"datum.value % 5000 === 0 ? 7 : 4"}}}}}},
    "y":{"field":"qd","type":"quantitative","axis":{"orient":"right","tickSize":0.01,"values":[0,0.02,0.04,0.06,0.08,0.1,0.12,0.14,0.16,0.18,0.2,0.22,0.24,0.26,0.28,0.3,0.32,0.34,0.36,0.38,0.4,0.42,0.44,0.46,0.48,0.5],"labels":false,"title":null,
        "encode":{"ticks":{"update":{"x":{"value":0},"x2":{"signal":"abs(datum.value*10 - round(datum.value*10)) < 1e-6 ? -7 : -4"}}}}}}}},
  {"transform":[{"filter":{"field":"series","equal":"r025"}}],"mark":{"type":"point","shape":"triangle-up","size":100,"filled":true,"opacity":1,"strokeWidth":0,"clip":true}},
  {"transform":[{"filter":{"field":"series","equal":"r05"}}],"mark":{"type":"point","shape":"square","size":72,"filled":true,"opacity":1,"strokeWidth":0,"clip":true}},
  {"transform":[{"filter":{"field":"series","equal":"r1"}}],"mark":{"type":"point","shape":"circle","size":140,"filled":true,"opacity":1,"strokeWidth":0,"clip":true}}
 ],
 "resolve":{"axis":{"x":"independent","y":"independent"}}
}]},
{"title":{"text":"(c)","orient":"bottom","anchor":"middle","frame":"bounds","font":"Liberation Serif","fontStyle":"italic","fontWeight":"normal","fontSize":20,"offset":17,"dx":-21},
 "vconcat":[{
 "width":505,"height":308,
 "title":{"text":"Daya Bay","frame":"group","anchor":"middle","offset":2,"dx":4},
 "data":{"values":[
{"L":0.1,"r0":0.001,"r025":0.001,"r05":0.001,"r1":0.001},{"L":0.2,"r0":0.0035,"r025":0.0035,"r05":0.0035,"r1":0.0035},{"L":0.3,"r0":0.0085,"r025":0.0085,"r05":0.0085,"r1":0.0085},{"L":0.4,"r0":0.015,"r025":0.015,"r05":0.015,"r1":0.015},{"L":0.5,"r0":0.023,"r025":0.023,"r05":0.023,"r1":0.023},{"L":0.6,"r0":0.033,"r025":0.033,"r05":0.033,"r1":0.033},{"L":0.7,"r0":0.044,"r025":0.044,"r05":0.044,"r1":0.044},{"L":0.8,"r0":0.055,"r025":0.055,"r05":0.055,"r1":0.055},{"L":0.9,"r0":0.067,"r025":0.067,"r05":0.067,"r1":0.067},{"L":1.0,"r0":0.079,"r025":0.079,"r05":0.079,"r1":0.079},
{"L":1.1,"r0":0.091,"r025":0.091,"r05":0.091,"r1":0.091},{"L":1.2,"r0":0.103,"r025":0.103,"r05":0.103,"r1":0.103},{"L":1.3,"r0":0.114,"r025":0.114,"r05":0.114,"r1":0.114},{"L":1.4,"r0":0.124,"r025":0.124,"r05":0.124,"r1":0.124},{"L":1.5,"r0":0.133,"r025":0.133,"r05":0.133,"r1":0.133},{"L":1.6,"r0":0.14,"r025":0.14,"r05":0.14,"r1":0.14},{"L":1.7,"r0":0.146,"r025":0.146,"r05":0.146,"r1":0.146},{"L":1.8,"r0":0.151,"r025":0.151,"r05":0.151,"r1":0.151},{"L":1.9,"r0":0.154,"r025":0.154,"r05":0.154,"r1":0.154},{"L":2.0,"r0":0.1553,"r025":0.1553,"r05":0.1553,"r1":0.1553},
{"L":2.1,"r0":0.1547,"r025":0.1547,"r05":0.1547,"r1":0.1547},{"L":2.2,"r0":0.1525,"r025":0.1525,"r05":0.1525,"r1":0.1525},{"L":2.3,"r0":0.149,"r025":0.149,"r05":0.149,"r1":0.149},{"L":2.4,"r0":0.1435,"r025":0.1435,"r05":0.1435,"r1":0.1435},{"L":2.5,"r0":0.1367,"r025":0.1367,"r05":0.1367,"r1":0.1367},{"L":2.6,"r0":0.129,"r025":0.129,"r05":0.129,"r1":0.129},{"L":2.7,"r0":0.1195,"r025":0.1195,"r05":0.1195,"r1":0.1195},{"L":2.8,"r0":0.109,"r025":0.109,"r05":0.109,"r1":0.109},{"L":2.9,"r0":0.098,"r025":0.098,"r05":0.098,"r1":0.098},{"L":3.0,"r0":0.086,"r025":0.086,"r05":0.086,"r1":0.086},
{"L":3.1,"r0":0.074,"r025":0.074,"r05":0.074,"r1":0.074},{"L":3.2,"r0":0.061,"r025":0.061,"r05":0.061,"r1":0.061},{"L":3.3,"r0":0.049,"r025":0.049,"r05":0.049,"r1":0.049},{"L":3.4,"r0":0.038,"r025":0.038,"r05":0.038,"r1":0.038},{"L":3.5,"r0":0.028,"r025":0.028,"r05":0.028,"r1":0.028},{"L":3.6,"r0":0.019,"r025":0.019,"r05":0.019,"r1":0.019},{"L":3.7,"r0":0.0115,"r025":0.0115,"r05":0.0115,"r1":0.0115},{"L":3.8,"r0":0.0055,"r025":0.0055,"r05":0.0055,"r1":0.0055},{"L":3.9,"r0":0.0017,"r025":0.0017,"r05":0.0017,"r1":0.0017},{"L":4.0,"r0":0.0001,"r025":0.0001,"r05":0.0001,"r1":0.0001},
{"L":4.1,"r0":0.0003,"r025":0.0003,"r05":0.0003,"r1":0.0003},{"L":4.2,"r0":0.0019,"r025":0.0019,"r05":0.0019,"r1":0.0019},{"L":4.3,"r0":0.006,"r025":0.006,"r05":0.006,"r1":0.006},{"L":4.4,"r0":0.0118,"r025":0.0118,"r05":0.0118,"r1":0.0118},{"L":4.5,"r0":0.0195,"r025":0.0195,"r05":0.0195,"r1":0.0195},{"L":4.6,"r0":0.028,"r025":0.028,"r05":0.028,"r1":0.028},{"L":4.7,"r0":0.0385,"r025":0.0385,"r05":0.0385,"r1":0.0385},{"L":4.8,"r0":0.0495,"r025":0.0495,"r05":0.0495,"r1":0.0495},{"L":4.9,"r0":0.0615,"r025":0.0615,"r05":0.0615,"r1":0.0615},{"L":5.0,"r0":0.074,"r025":0.074,"r05":0.074,"r1":0.074},
{"L":5.1,"r0":0.086,"r025":0.086,"r05":0.086,"r1":0.086},{"L":5.2,"r0":0.0977,"r025":0.0977,"r05":0.0977,"r1":0.0977},{"L":5.3,"r0":0.1087,"r025":0.1087,"r05":0.1087,"r1":0.1087},{"L":5.4,"r0":0.1192,"r025":0.1192,"r05":0.1192,"r1":0.1192},{"L":5.5,"r0":0.1288,"r025":0.1288,"r05":0.1288,"r1":0.1288},{"L":5.6,"r0":0.137,"r025":0.137,"r05":0.137,"r1":0.137},{"L":5.7,"r0":0.1435,"r025":0.1435,"r05":0.1435,"r1":0.1435},{"L":5.8,"r0":0.149,"r025":0.149,"r05":0.149,"r1":0.149},{"L":5.9,"r0":0.153,"r025":0.153,"r05":0.153,"r1":0.153},{"L":6.0,"r0":0.155,"r025":0.155,"r05":0.155,"r1":0.155},
{"L":6.1,"r0":0.1548,"r025":0.1548,"r05":0.1548,"r1":0.1548},{"L":6.2,"r0":0.153,"r025":0.153,"r05":0.153,"r1":0.153},{"L":6.3,"r0":0.1497,"r025":0.1497,"r05":0.1497,"r1":0.1497},{"L":6.4,"r0":0.1452,"r025":0.1452,"r05":0.1452,"r1":0.1452},{"L":6.5,"r0":0.1393,"r025":0.1393,"r05":0.1393,"r1":0.1393},{"L":6.6,"r0":0.132,"r025":0.132,"r05":0.132,"r1":0.132},{"L":6.7,"r0":0.1235,"r025":0.1235,"r05":0.1235,"r1":0.1235},{"L":6.8,"r0":0.1137,"r025":0.1137,"r05":0.1137,"r1":0.1137},{"L":6.9,"r0":0.103,"r025":0.103,"r05":0.103,"r1":0.103},{"L":7.0,"r0":0.0917,"r025":0.0917,"r05":0.0917,"r1":0.0917},
{"L":7.1,"r0":0.08,"r025":0.08,"r05":0.08,"r1":0.08},{"L":7.2,"r0":0.068,"r025":0.068,"r05":0.068,"r1":0.068},{"L":7.3,"r0":0.0555,"r025":0.0555,"r05":0.0555,"r1":0.0555},{"L":7.4,"r0":0.0435,"r025":0.0435,"r05":0.0435,"r1":0.0435},{"L":7.5,"r0":0.0325,"r025":0.0325,"r05":0.0325,"r1":0.0325},{"L":7.6,"r0":0.023,"r025":0.023,"r05":0.023,"r1":0.023},{"L":7.7,"r0":0.0145,"r025":0.0145,"r05":0.0145,"r1":0.0145},{"L":7.8,"r0":0.008,"r025":0.008,"r05":0.008,"r1":0.008},{"L":7.9,"r0":0.0035,"r025":0.0035,"r05":0.0035,"r1":0.0035},{"L":8.0,"r0":0.0008,"r025":0.0008,"r05":0.0008,"r1":0.0008}
 ]},
 "transform":[{"fold":["r0","r025","r05","r1"],"as":["series","qd"]}],
 "encoding":{
   "x":{"field":"L","type":"quantitative","scale":{"domain":[-0.3117,8.12],"nice":false,"zero":false},"axis":null},
   "y":{"field":"qd","type":"quantitative","scale":{"domain":[-0.0033,0.1645],"nice":false,"zero":false},"axis":null},
   "color":{"field":"series","type":"nominal","scale":{"domain":["r0","r025","r05","r1"],"range":["#0000ff","#ff0000","#00ff00","#800080"]},
   "legend":{"legendX":413,"legendY":5,"labelOffset":21,"rowPadding":7,
    "labelExpr":"datum.label === 'r0' ? 'r=0' : datum.label === 'r025' ? 'r=0.25' : datum.label === 'r05' ? 'r=0.5' : 'r=1'",
    "encode":{"symbols":{"update":{
      "shape":{"signal":"datum.value === 'r0' ? 'M-2.1,0H-1.7M-1.45,0H-1.05M-0.8,0H-0.55M0.55,0H0.8M1.05,0H1.45M1.7,0H2.1M-0.55,-0.17H-0.17V-0.55H0.17V-0.17H0.55V0.17H0.17V0.55H-0.17V0.17H-0.55Z' : datum.value === 'r025' ? 'M-2.1,0H-1.35M-0.95,0H-0.2M0.2,0H0.95M1.35,0H2.1M0,-0.55L0.55,0.42L-0.55,0.42Z' : datum.value === 'r05' ? 'M-2.1,0H-0.9M-0.65,0H0.65M0.9,0H2.1M-0.4,-0.4H0.4V0.4H-0.4Z' : 'M-2.1,0H-0.8M0.8,0H2.1M0.6,0A0.6,0.6,0,1,1,-0.6,0A0.6,0.6,0,1,1,0.6,0Z'"},
      "fill":{"signal":"datum.value === 'r0' ? '#0000ff' : datum.value === 'r025' ? '#ff0000' : datum.value === 'r05' ? '#00ff00' : '#800080'"},
      "stroke":{"signal":"datum.value === 'r0' ? '#0000ff' : datum.value === 'r025' ? '#ff0000' : datum.value === 'r05' ? '#00ff00' : '#800080'"},
      "size":{"value":400},"opacity":{"value":1},"strokeWidth":{"value":1.6}}}}}}},
 "layer":[
  {"mark":{"type":"line","strokeWidth":1.5,"clip":true},
   "encoding":{
    "x":{"field":"L","type":"quantitative",
      "axis":{"orient":"bottom","values":[0,0.5,1,1.5,2,2.5,3,3.5,4,4.5,5,5.5,6,6.5,7,7.5,8],"format":"d","labelExpr":"datum.value % 2 === 0 ? datum.label : ''","title":"Traveled distance L (Km)","titlePadding":16,
        "encode":{"ticks":{"update":{"y":{"value":0},"y2":{"signal":"datum.value % 2 === 0 ? -7 : -4"}}},"domain":{"update":{"x":{"value":9.2}}}}}},
    "y":{"field":"qd","type":"quantitative",
      "axis":{"orient":"left","offset":-9.2,"values":[0,0.01,0.02,0.03,0.04,0.05,0.06,0.07,0.08,0.09,0.1,0.11,0.12,0.13,0.14,0.15,0.16],"format":".2f","labelExpr":"abs(datum.value*20 - round(datum.value*20)) < 1e-6 ? datum.label : ''","title":"QD","titlePadding":12,
        "encode":{"ticks":{"update":{"x":{"value":0},"x2":{"signal":"abs(datum.value*20 - round(datum.value*20)) < 1e-6 ? 7 : 4"}}}}}},
    "strokeDash":{"field":"series","type":"nominal","scale":{"domain":["r0","r025","r05","r1"],"range":[[4,3],[10,5],[14,4],[18,3]]},"legend":null}}},
  {"transform":[{"filter":{"field":"series","equal":"r0"}}],
   "mark":{"type":"point","shape":"cross","size":45,"filled":true,"opacity":1,"strokeWidth":0,"clip":true},
   "encoding":{
    "x":{"field":"L","type":"quantitative","axis":{"orient":"top","tickSize":0.01,"values":[0,0.5,1,1.5,2,2.5,3,3.5,4,4.5,5,5.5,6,6.5,7,7.5,8],"labels":false,"title":null,
        "encode":{"ticks":{"update":{"y":{"value":0},"y2":{"signal":"datum.value % 2 === 0 ? 7 : 4"}}},"domain":{"update":{"x":{"value":9.2}}}}}},
    "y":{"field":"qd","type":"quantitative","axis":{"orient":"right","tickSize":0.01,"values":[0,0.01,0.02,0.03,0.04,0.05,0.06,0.07,0.08,0.09,0.1,0.11,0.12,0.13,0.14,0.15,0.16],"labels":false,"title":null,
        "encode":{"ticks":{"update":{"x":{"value":0},"x2":{"signal":"abs(datum.value*20 - round(datum.value*20)) < 1e-6 ? -7 : -4"}}}}}}}},
  {"transform":[{"filter":{"field":"series","equal":"r025"}}],"mark":{"type":"point","shape":"triangle-up","size":100,"filled":true,"opacity":1,"strokeWidth":0,"clip":true}},
  {"transform":[{"filter":{"field":"series","equal":"r05"}}],"mark":{"type":"point","shape":"square","size":72,"filled":true,"opacity":1,"strokeWidth":0,"clip":true}},
  {"transform":[{"filter":{"field":"series","equal":"r1"}}],"mark":{"type":"point","shape":"circle","size":140,"filled":true,"opacity":1,"strokeWidth":0,"clip":true}}
 ],
 "resolve":{"axis":{"x":"independent","y":"independent"}}
}]}
]
}
